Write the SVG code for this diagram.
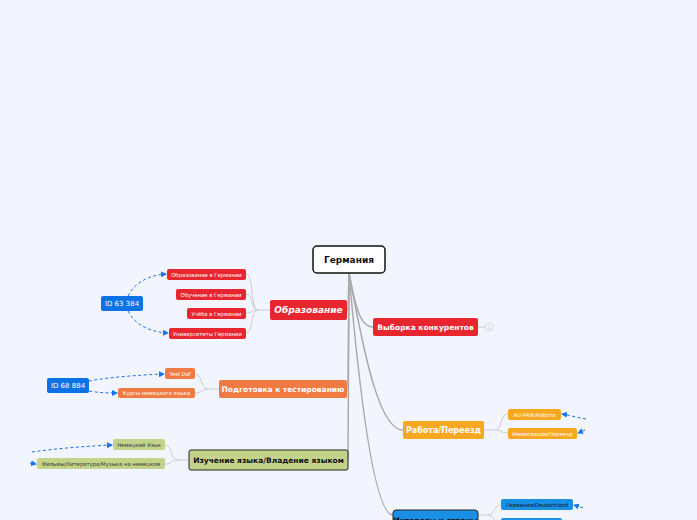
<svg xmlns="http://www.w3.org/2000/svg" width="697" height="520" viewBox="0 0 697 520">
<defs>
<marker id="ah" markerWidth="6" markerHeight="6" refX="5" refY="3" orient="auto" markerUnits="userSpaceOnUse"><path d="M0,0 L6,3 L0,6 Z" fill="#1a73e8"/></marker>
<style>
text{font-family:"DejaVu Sans","Noto Sans",sans-serif;text-anchor:middle;dominant-baseline:central}
.main{font-size:8px;font-weight:bold;fill:#fff}
.sub{font-size:5.3px;fill:#fff}
.subd{font-size:5.3px;fill:#333}
.red{fill:#e8262f}
.org{fill:#f07a42}
.yel{fill:#f8a820}
.grn{fill:#c3d38a}
.blu{fill:#1a8fe6}
.id{fill:#0b73e6}
.conn{fill:none;stroke:#aaaaaa;stroke-width:1.5}
.sc{fill:none;stroke:#cccccc;stroke-width:1}
.dash{fill:none;stroke:#1a73e8;stroke-width:1;stroke-dasharray:3,2.5}
</style>
</defs>
<rect width="697" height="520" fill="#f2f5fd"/>
<g id="connectors">
<path class="conn" d="M349,273 L348,310 L347,310"/>
<path class="conn" d="M349,273 L348,389"/>
<path class="conn" d="M349,273 L348,460"/>
<path class="conn" d="M349,273 C355,305 360,327 373,327"/>
<path class="conn" d="M349,273 C365,360 380,430 403,430"/>
<path class="conn" d="M349,273 C360,400 375,515 393,515"/>
<path class="sc" d="M270,310 L258,310 C250,310 254,274 246,274"/>
<path class="sc" d="M258,310 C250,310 254,294 246,294"/>
<path class="sc" d="M258,310 C250,310 254,313 246,313"/>
<path class="sc" d="M258,310 C250,310 254,333 246,333"/>
<path class="sc" d="M219,389 L208,389 C200,389 203,374 195,374"/>
<path class="sc" d="M208,389 C200,389 203,393 195,393"/>
<path class="sc" d="M189,460 L178,460 C170,460 173,445 165,445"/>
<path class="sc" d="M178,460 C170,460 173,464 165,464"/>
<path class="sc" d="M484,430 L495,430 C502,430 500,414 508,414"/>
<path class="sc" d="M495,430 C502,430 500,433 508,433"/>
<path class="sc" d="M478,515 L488,515 C495,515 493,505 501,505"/>
<path class="sc" d="M488,515 C495,515 493,524 501,524"/>
<path class="sc" d="M478,327 L485,327"/>
<path class="dash" d="M128,296 C135,282 150,275 166,274" marker-end="url(#ah)"/>
<path class="dash" d="M128,311 C135,325 150,332 168,333" marker-end="url(#ah)"/>
<path class="dash" d="M89,381 C110,377 140,375 164,374" marker-end="url(#ah)"/>
<path class="dash" d="M89,391 C100,393 110,393 117,393" marker-end="url(#ah)"/>
<path class="dash" d="M32,452 C60,448 90,446 112,445" marker-end="url(#ah)"/>
<path class="dash" d="M30,463 L36,464" marker-end="url(#ah)"/>
<path class="dash" d="M586,419 C575,417 568,415 562,414" marker-end="url(#ah)"/>
<path class="dash" d="M585,430 L578,433" marker-end="url(#ah)"/>
<path class="dash" d="M583,508 L574,505" marker-end="url(#ah)"/>
</g>
<g id="root"><rect x="313" y="246" width="72" height="27" rx="4" fill="#fff" stroke="#111" stroke-width="1.5"/><text x="349" y="260" style="font-size:9px;font-weight:bold;fill:#111">Германия</text></g>
<g id="obr"><rect class="red" x="270" y="300" width="77" height="20" rx="2"/><text class="main" x="308.5" y="310" style="font-style:italic;font-size:9px">Образование</text></g>
<g id="obr1"><rect class="red" x="167" y="269" width="79" height="11" rx="2"/><text class="sub" x="206.5" y="274.5">Образование в Германии</text></g>
<g id="obr2"><rect class="red" x="176" y="289" width="70" height="11" rx="2"/><text class="sub" x="211" y="294.5">Обучение в Германии</text></g>
<g id="obr3"><rect class="red" x="187" y="308" width="59" height="11" rx="2"/><text class="sub" x="216.5" y="313.5">Учёба в Германии</text></g>
<g id="obr4"><rect class="red" x="169" y="328" width="77" height="11" rx="2"/><text class="sub" x="207.5" y="333.5">Университеты Германии</text></g>
<g id="id1"><rect class="id" x="101" y="296" width="42" height="15" rx="2"/><text x="122" y="303.5" style="font-size:7px;fill:#fff">ID 63 384</text></g>
<g id="podg"><rect class="org" x="219" y="380" width="128" height="18" rx="2"/><text class="main" x="283" y="389" style="font-size:7.5px">Подготовка к тестированию</text></g>
<g id="podg1"><rect class="org" x="165" y="368" width="30" height="11" rx="2"/><text class="sub" x="180" y="373.5">Test Daf</text></g>
<g id="podg2"><rect class="org" x="118" y="388" width="77" height="10" rx="2"/><text class="sub" x="156.5" y="393">Курсы немецкого языка</text></g>
<g id="id2"><rect class="id" x="47" y="378" width="42" height="15" rx="2"/><text x="68" y="385.5" style="font-size:7px;fill:#fff">ID 68 884</text></g>
<g id="izuch"><rect class="grn" x="189" y="450" width="159" height="20" rx="2" stroke="#222" stroke-width="1"/><text x="268.5" y="460" style="font-size:7.5px;font-weight:bold;fill:#111">Изучение языка/Владение языком</text></g>
<g id="izuch1"><rect class="grn" x="113" y="439" width="52" height="11" rx="2"/><text class="subd" x="139" y="444.5">Немецкий Язык</text></g>
<g id="izuch2"><rect class="grn" x="37" y="458" width="128" height="11" rx="2"/><text class="subd" x="101" y="463.5">Фильмы/Литература/Музыка на немецком</text></g>
<g id="vyb"><rect class="red" x="373" y="318" width="105" height="18" rx="2"/><text class="main" x="425.5" y="327" style="font-size:7.5px">Выборка конкурентов</text><circle cx="489" cy="327" r="4" fill="none" stroke="#ccc" stroke-width="0.8"/><text x="489" y="327" style="font-size:4.5px;fill:#bbb">1</text></g>
<g id="rab"><rect class="yel" x="403" y="421" width="81" height="18" rx="2"/><text class="main" x="443.5" y="430">Работа/Переезд</text></g>
<g id="rab1"><rect class="yel" x="508" y="409" width="53" height="11" rx="2"/><text class="sub" x="534.5" y="414.5">AU-PAIR/Работа</text></g>
<g id="rab2"><rect class="yel" x="508" y="428" width="69" height="11" rx="2"/><text class="sub" x="542.5" y="433.5">Иммиграция/Переезд</text></g>
<g id="inter"><rect class="blu" x="393" y="510" width="85" height="20" rx="3" stroke="#222" stroke-width="1"/><text x="435.5" y="520.5" style="font-size:7.5px;font-weight:bold;fill:#111">Интересы и страны</text></g>
<g id="inter1"><rect class="blu" x="501" y="499" width="72" height="11" rx="2"/><text class="subd" x="537" y="504.5" style="fill:#111">Германия/Deutschland</text></g>
<g id="inter2"><rect class="blu" x="501" y="518" width="61" height="11" rx="2"/></g>
</svg>
